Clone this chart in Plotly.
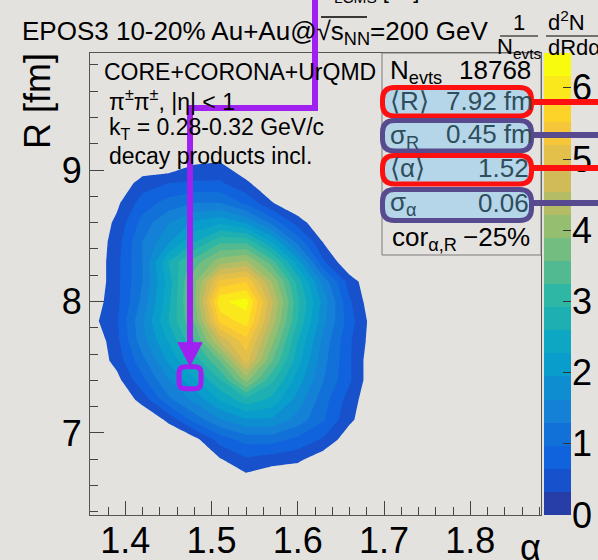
import plotly.graph_objects as go

# ---------------------------------------------------------------- data
alpha_grid = [1.36, 1.39, 1.42, 1.45, 1.48, 1.51, 1.54, 1.57, 1.60, 1.63, 1.66, 1.69, 1.72]
r_grid = [6.50, 6.65, 6.80, 6.95, 7.10, 7.25, 7.40, 7.55, 7.70, 7.85,
          8.00, 8.15, 8.30, 8.45, 8.60, 8.75, 8.90, 9.05, 9.20]
# 1/N dN^2/dRdalpha, one row per R value
density = [
    [0, 0, 0, 0, 0, 0, 0, 0, 0, 0, 0, 0, 0],
    [0, 0, 0, 0, 0, 0, 0.2, 0, 0, 0, 0, 0, 0],
    [0, 0, 0, 0, 0, 0.3, 0.6, 0.5, 0.4, 0.1, 0, 0, 0],
    [0, 0, 0, 0, 0.2, 0.8, 1.1, 1.1, 0.9, 0.6, 0.1, 0, 0],
    [0, 0, 0, 0.4, 1.1, 1.6, 1.9, 1.9, 1.5, 1.0, 0.4, 0, 0],
    [0, 0, 0.45, 1.2, 1.7, 2.3, 2.8, 2.5, 1.8, 1.1, 0.5, 0, 0],
    [0, 0.2, 0.9, 1.6, 2.2, 2.9, 4.0, 3.0, 2.1, 1.3, 0.7, 0, 0],
    [0, 0.45, 1.2, 2.0, 2.7, 3.6, 5.0, 3.6, 2.4, 1.4, 0.7, 0, 0],
    [0, 0.55, 1.5, 2.3, 3.2, 4.6, 5.4, 4.0, 2.6, 1.5, 0.7, 0.1, 0],
    [0.2, 0.6, 1.6, 2.6, 3.6, 5.6, 6.0, 4.4, 2.9, 1.7, 0.8, 0.1, 0],
    [0.1, 0.55, 1.4, 2.5, 3.8, 6.1, 6.3, 4.6, 3.0, 1.8, 0.7, 0, 0],
    [0, 0.55, 1.3, 2.4, 3.8, 5.3, 5.5, 4.2, 2.8, 1.5, 0.5, 0, 0],
    [0, 0.55, 1.3, 2.6, 3.4, 4.1, 4.3, 3.4, 2.1, 0.7, 0, 0, 0],
    [0, 0.5, 1.3, 1.9, 2.6, 3.2, 3.2, 2.3, 1.2, 0.3, 0, 0, 0],
    [0, 0.4, 1.1, 1.6, 2.0, 2.2, 1.9, 1.2, 0.5, 0, 0, 0, 0],
    [0, 0.25, 0.8, 1.1, 1.3, 1.3, 0.9, 0.35, 0, 0, 0, 0, 0],
    [0, 0, 0.5, 0.65, 0.7, 0.7, 0.4, 0, 0, 0, 0, 0, 0],
    [0, 0, 0, 0, 0.3, 0.35, 0, 0, 0, 0, 0, 0, 0],
    [0, 0, 0, 0, 0, 0, 0, 0, 0, 0, 0, 0, 0],
]

n_events = 18768
mean_r, sigma_r = 7.92, 0.45
mean_alpha, sigma_alpha = 1.52, 0.06
corr_alpha_r = -25
highlight_point = (1.475, 7.42)          # (alpha, R) marked by the arrow

x_range = [1.359, 1.882]
y_range = [6.376, 9.89]
x_ticks = [1.4, 1.5, 1.6, 1.7, 1.8]
y_ticks = [7, 8, 9]
z_max = 6.49
z_ticks = [0, 1, 2, 3, 4, 5, 6]
n_levels = 20

# ---------------------------------------------------------------- style
FONT = "Liberation Sans, Arial, sans-serif"
BG = "#e4e2df"
W, H = 598, 560
ML, MR, MT, MB = 90, 27, 53, 45
PW, PH = W - ML - MR, H - MT - MB
FRAME_RIGHT = 541
BAR_LEFT = 544
VIOLET = "#a020f0"
RED = "#ff1010"
DPURPLE = "#574a8e"
HILITE_FILL = "#b4d6e8"
HILITE_TEXT = "#2f4d5c"

# ROOT "bird" palette stops
BIRD = [
    (0.2082, 0.1664, 0.5293), (0.0592, 0.3599, 0.8684), (0.0780, 0.5041, 0.8385),
    (0.0232, 0.6419, 0.7914), (0.1802, 0.7178, 0.6425), (0.5301, 0.7492, 0.4662),
    (0.8186, 0.7328, 0.3499), (0.9956, 0.7862, 0.1968), (0.9764, 0.9832, 0.0539),
]


def bird(t):
    t = min(max(t, 0.0), 1.0) * (len(BIRD) - 1)
    i = min(int(t), len(BIRD) - 2)
    f = t - i
    c = [BIRD[i][k] + f * (BIRD[i + 1][k] - BIRD[i][k]) for k in range(3)]
    return "rgb(%d,%d,%d)" % tuple(round(255 * v) for v in c)


def px(x):
    return (x - ML) / PW


def py(y):
    return (H - MB - y) / PH


cs = z_max / n_levels
band_colors = [bird(int((k + 0.99) * 255 / n_levels) / 254) for k in range(n_levels)]

# contour: levels 1..19 drawn, everything below the first level left empty
n_c = n_levels - 1
cont_scale = [[0.0, "rgba(0,0,0,0)"], [0.5 / n_c, "rgba(0,0,0,0)"]]
for j in range(1, n_levels):
    lo = (j - 0.5) / n_c
    hi = min((j + 0.5) / n_c, 1.0)
    cont_scale += [[lo, band_colors[j]], [hi, band_colors[j]]]

# colour bar drawn as a one-column heatmap of the band indices
bar_scale = []
for k in range(n_levels):
    bar_scale += [[k / n_levels, band_colors[k]], [(k + 1) / n_levels, band_colors[k]]]

fig = go.Figure()
fig.add_trace(go.Contour(
    x=alpha_grid, y=r_grid, z=density,
    autocontour=False,
    contours=dict(start=cs, end=cs * n_c, size=cs, coloring="fill", showlines=False),
    line=dict(width=0, smoothing=0),
    colorscale=cont_scale, showscale=False, hoverinfo="skip",
))
fig.add_trace(go.Heatmap(
    x=[0], y=[(k + 0.5) * cs for k in range(n_levels)],
    z=[[k] for k in range(n_levels)],
    zmin=-0.5, zmax=n_levels - 0.5, colorscale=bar_scale,
    showscale=False, hoverinfo="skip", xaxis="x2", yaxis="y2",
))

axis_common = dict(
    showgrid=False, zeroline=False, showline=True, linecolor="#555", linewidth=1,
    mirror=True, ticks="inside", ticklen=14, tickcolor="#444", tickwidth=1,
    automargin=False,
    tickfont=dict(family=FONT, size=36, color="black"),
)
fig.update_layout(
    width=W, height=H,
    margin=dict(l=ML, r=MR, t=MT, b=MB, pad=0, autoexpand=False),
    paper_bgcolor=BG, plot_bgcolor=BG,
    showlegend=False,
    xaxis=dict(axis_common, domain=[0, px(FRAME_RIGHT)], range=x_range,
               tickvals=x_ticks, ticktext=[f"{v:.1f}" for v in x_ticks],
               ticklabelstandoff=-6,
               minor=dict(dtick=0.02, tick0=1.4, ticks="inside", ticklen=8, tickcolor="#444")),
    yaxis=dict(axis_common, domain=[0, 1], range=y_range, tickvals=y_ticks,
               minor=dict(dtick=0.2, tick0=7, ticks="inside", ticklen=8, tickcolor="#444")),
    xaxis2=dict(domain=[px(BAR_LEFT), 1], range=[-0.5, 0.5], visible=False, anchor="y2",
                automargin=False),
    yaxis2=dict(domain=[0, 1], range=[0, z_max], anchor="x2", side="right",
                tickvals=z_ticks, ticks="inside", ticklen=8, tickcolor="#333",
                showgrid=False, zeroline=False, showline=False, automargin=False,
                tickfont=dict(family=FONT, size=36, color="black")),
)

shapes = []
annotations = []


def text(s, x, y, size, xanchor="left", color="black", angle=0):
    annotations.append(dict(
        text=s, x=px(x), y=py(y), xref="paper", yref="paper",
        xanchor=xanchor, yanchor="middle", showarrow=False, textangle=angle,
        font=dict(family=FONT, size=size, color=color),
    ))


def seg(x0, y0, x1, y1, color, width):
    shapes.append(dict(type="line", xref="paper", yref="paper",
                       x0=px(x0), y0=py(y0), x1=px(x1), y1=py(y1),
                       line=dict(color=color, width=width), layer="above"))


def rounded(x0, y0, x1, y1, r):
    pts = [
        ("M", x0 + r, y0), ("L", x1 - r, y0), ("Q", x1, y0, x1, y0 + r),
        ("L", x1, y1 - r), ("Q", x1, y1, x1 - r, y1), ("L", x0 + r, y1),
        ("Q", x0, y1, x0, y1 - r), ("L", x0, y0 + r), ("Q", x0, y0, x0 + r, y0),
    ]
    out = []
    for p in pts:
        coords = p[1:]
        xy = []
        for i in range(0, len(coords), 2):
            xy.append(f"{px(coords[i]):.5f},{py(coords[i + 1]):.5f}")
        out.append(p[0] + " ".join(xy))
    return " ".join(out) + " Z"


# title line and cut-off header
text("EPOS3 10-20% Au+Au@√s<sub>NN</sub>=200 GeV", 20, 33, 26)
seg(321, 17, 367, 17, "black", 1.5)
text("R<sub>LCMS</sub> [fm]", 316, -8, 22)

# z-axis title as two fractions
text("1", 519, 22, 22, xanchor="center")
seg(500, 36, 538, 36, "black", 1.2)
text("N<sub>evts</sub>", 519, 48, 22, xanchor="center")
text("d<sup>2</sup>N", 546, 21, 22)
seg(546, 36, 600, 36, "black", 1.2)
text("dRdα", 546, 47, 22)

# axis titles
text("R [fm]", 37, 101, 36, xanchor="center", angle=-90)
text("α", 530, 547, 36, xanchor="center")

# model description
text("CORE+CORONA+UrQMD", 102, 72, 23)
text("π<sup>±</sup>π<sup>±</sup>, |η| &lt; 1", 107, 100, 23)
text("k<sub>T</sub> = 0.28-0.32 GeV/c", 107, 128, 23)
text("decay products incl.", 107, 156, 23)

# statistics box
shapes.append(dict(type="rect", xref="paper", yref="paper",
                   x0=px(382), x1=px(FRAME_RIGHT), y0=py(255), y1=py(53),
                   line=dict(color="#7a7a7a", width=1), layer="above"))
rows = [
    (87.5, 116, RED, 102), (120.5, 151, DPURPLE, 135),
    (155.5, 184, RED, 168), (189.5, 220.5, DPURPLE, 203),
]
for top, bot, col, yl in rows:
    seg(531, yl, 600, yl, col, 6)
    shapes.append(dict(type="path", xref="paper", yref="paper",
                       path=rounded(382.5, top, 531.5, bot, 12),
                       fillcolor=HILITE_FILL, line=dict(color=col, width=5),
                       layer="above"))

text("N<sub>evts</sub>", 388, 71, 26)
text(f"{n_events}", 533, 70, 26, xanchor="right")
text("⟨R⟩", 388, 101, 26, color=HILITE_TEXT)
text(f"{mean_r:.2f} fm", 535, 101, 26, xanchor="right", color=HILITE_TEXT)
text("σ<sub>R</sub>", 388, 136, 26, color=HILITE_TEXT)
text(f"{sigma_r:.2f} fm", 535, 134, 26, xanchor="right", color=HILITE_TEXT)
text("⟨α⟩", 388, 168, 26, color=HILITE_TEXT)
text(f"{mean_alpha:.2f}", 531, 168, 26, xanchor="right", color=HILITE_TEXT)
text("σ<sub>α</sub>", 388, 203, 26, color=HILITE_TEXT)
text(f"{sigma_alpha:.2f}", 531, 203, 26, xanchor="right", color=HILITE_TEXT)
text("cor<sub>α,R</sub>", 390, 238, 26)
text(f"−{abs(corr_alpha_r)}%", 532, 237, 26, xanchor="right")

# arrow to the highlighted (alpha, R) point
hx = ML + (highlight_point[0] - x_range[0]) / (x_range[1] - x_range[0]) * (FRAME_RIGHT - ML)
hy = (H - MB) - (highlight_point[1] - y_range[0]) / (y_range[1] - y_range[0]) * PH
path = "M{:.5f},{:.5f} L{:.5f},{:.5f} L{:.5f},{:.5f} L{:.5f},{:.5f}".format(
    px(315), py(-5), px(315), py(108), px(hx), py(108), px(hx), py(hy - 32))
shapes.append(dict(type="path", xref="paper", yref="paper", path=path,
                   line=dict(color=VIOLET, width=6), layer="above"))
tri = "M{:.5f},{:.5f} L{:.5f},{:.5f} L{:.5f},{:.5f} Z".format(
    px(hx - 12), py(hy - 35), px(hx + 12), py(hy - 35), px(hx), py(hy - 12))
shapes.append(dict(type="path", xref="paper", yref="paper", path=tri,
                   fillcolor=VIOLET, line=dict(color=VIOLET, width=1), layer="above"))

s, r = 11, 6
sq = (f"M{-s + r},{-s} L{s - r},{-s} Q{s},{-s} {s},{-s + r} L{s},{s - r} Q{s},{s} {s - r},{s} "
      f"L{-s + r},{s} Q{-s},{s} {-s},{s - r} L{-s},{-s + r} Q{-s},{-s} {-s + r},{-s} Z")
shapes.append(dict(type="path", xref="x", yref="y", xsizemode="pixel", ysizemode="pixel",
                   xanchor=highlight_point[0], yanchor=highlight_point[1], path=sq,
                   line=dict(color=VIOLET, width=5), layer="above"))

fig.update_layout(shapes=shapes, annotations=annotations)
fig.write_html("out.html")
